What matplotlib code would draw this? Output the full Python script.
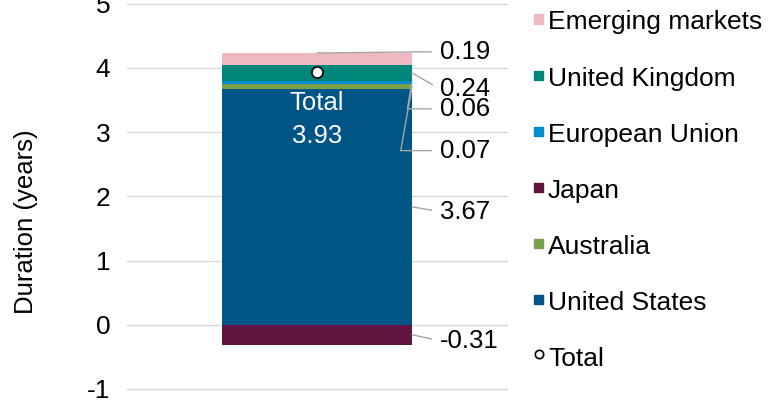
import numpy as np
import matplotlib.pyplot as plt
from matplotlib.patches import Rectangle
from matplotlib.lines import Line2D

plt.rcParams['font.family'] = ['Liberation Sans', 'DejaVu Sans']
plt.rcParams['axes.unicode_minus'] = False

# positive segments, stacked bottom to top
regions = ['United States', 'Australia', 'European Union', 'United Kingdom', 'Emerging markets']
values = [3.67, 0.07, 0.06, 0.24, 0.19]
colors = ['#005486', '#7BA04C', '#008DD2', '#00877B', '#EFB9C1']

neg_region = 'Japan'
neg_value = -0.31
neg_color = '#621441'

total = 3.93

legend_order = ['Emerging markets', 'United Kingdom', 'European Union', 'Japan',
                'Australia', 'United States']

# where the data labels sit (y in data units)
label_y = {'Emerging markets': 4.25, 'United Kingdom': 3.67, 'European Union': 3.36,
           'Australia': 2.71, 'United States': 1.76, 'Japan': -0.25}

fig = plt.figure(figsize=(7.76, 4.13), dpi=100)
ax = fig.add_axes([127/776, 24/413, 380/776, 385.5/413])

bottoms = np.concatenate([[0], np.cumsum(values)[:-1]])
ax.bar(0, values, bottom=bottoms, width=1.0, color=colors, zorder=2)
ax.bar(0, neg_value, width=1.0, color=neg_color, zorder=2)

ax.plot(0, total, 'o', markerfacecolor='white', markeredgecolor='black',
        markersize=8, markeredgewidth=1.2, zorder=4)
ax.text(0, 3.45, 'Total', color='white', fontsize=18.5, ha='center', va='center', zorder=5)
ax.text(0, 2.94, f'{total:.2f}', color='white', fontsize=18.5, ha='center', va='center', zorder=5)

# data labels with leader lines
lx = 0.647
line_kw = dict(arrowstyle='-', color='#A6A6A6', lw=1, relpos=(0, 0.5), shrinkA=4, shrinkB=0)
for name, v, b in zip(regions, values, bottoms):
    mid = b + v / 2
    if name == 'Emerging markets':
        xy = (0, b + v)
        cs = 'arc3'
    elif name in ('European Union', 'Australia'):
        xy = (0.5, mid)
        cs = 'angle,angleA=0,angleB=80,rad=0'
    else:
        xy = (0.5, mid)
        cs = 'arc3'
    ax.annotate(f'{v:.2f}', xy=xy, xytext=(lx, label_y[name]), fontsize=18.5,
                ha='left', va='center', zorder=5,
                arrowprops=dict(connectionstyle=cs, **line_kw))
ax.annotate(f'{neg_value:.2f}', xy=(0.5, neg_value / 2), xytext=(lx, label_y[neg_region]),
            fontsize=18.5, ha='left', va='center',
            arrowprops=dict(connectionstyle='arc3', **line_kw))

ax.set_xlim(-1, 1)
ax.set_ylim(-1, 5)
ax.set_yticks(range(-1, 6))
ax.set_xticks([])
ax.grid(axis='y', color='#D9D9D9', lw=1, zorder=0)
for gl in ax.get_ygridlines():
    gl.set_clip_on(False)
ax.tick_params(axis='y', length=0, pad=12, labelsize=19)
for s in ax.spines.values():
    s.set_visible(False)

fig.text(26/776, 1 - 222/413, 'Duration (years)', rotation=90, fontsize=18.5,
         ha='center', va='center')

# legend
color_of = dict(zip(regions, colors))
color_of[neg_region] = neg_color
for i, name in enumerate(legend_order + ['Total']):
    yc = 22.5 + i * 56.1
    if name == 'Total':
        fig.add_artist(Line2D([539/776], [1 - (yc - 5)/413], marker='o', markersize=6,
                              markerfacecolor='white', markeredgecolor='black',
                              markeredgewidth=1.2, transform=fig.transFigure))
    else:
        fig.add_artist(Rectangle((534/776, 1 - (yc + 1)/413), 9/776, 9/413,
                                 color=color_of[name], transform=fig.transFigure))
    fig.text(548/776, 1 - yc/413, name, fontsize=19, ha='left', va='center')

fig.savefig('out.png', dpi=100)
